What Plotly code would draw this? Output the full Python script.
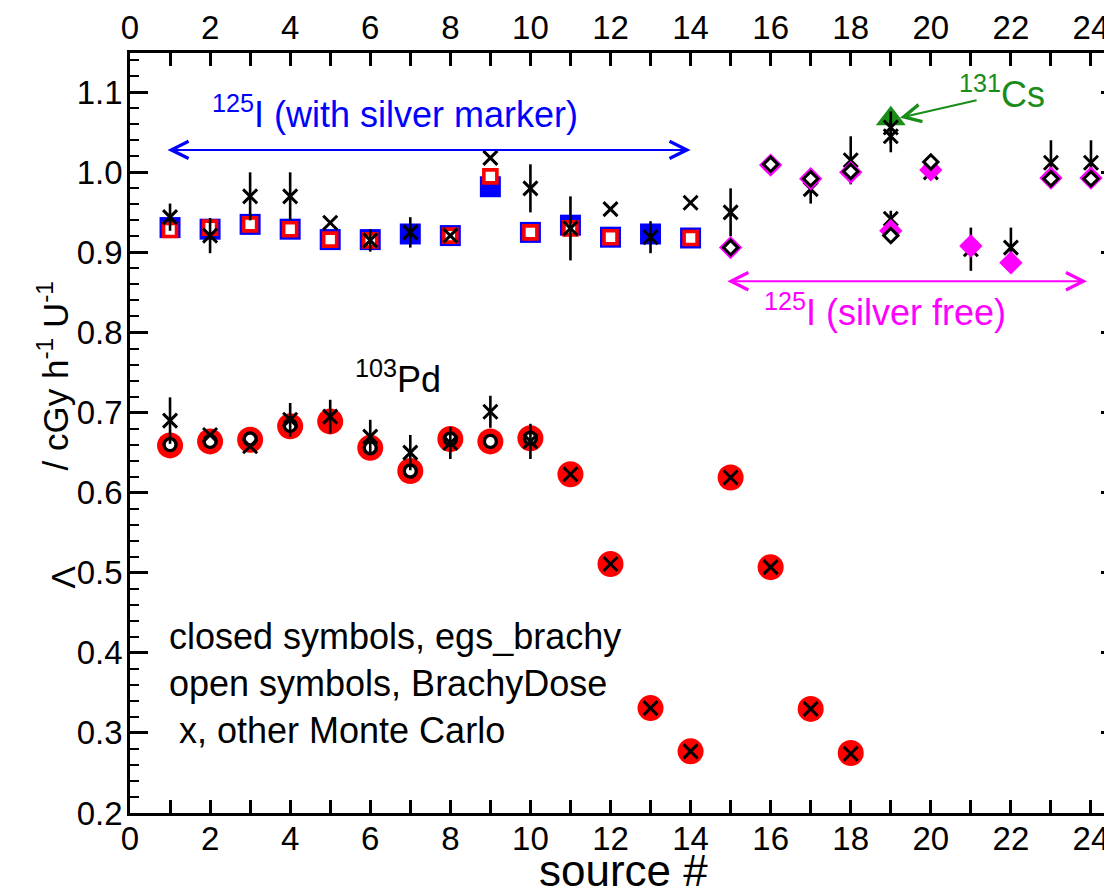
import plotly.graph_objects as go

# ---------------- data ----------------
# 125I sources with silver marker (sources 1-14)
i_src = list(range(1, 15))
i_egs = [0.931, 0.929, 0.935, 0.929, 0.916, 0.916, 0.923, 0.921, 0.982, 0.925, 0.934, 0.919, 0.923, 0.918]
i_bd = [0.928, 0.931, 0.935, 0.929, 0.916, 0.915, None, 0.921, 0.995, 0.925, 0.930, 0.919, None, 0.918]
i_other = [0.944, 0.921, 0.970, 0.970, 0.937, 0.915, 0.925, 0.921, 1.018, 0.980, 0.930, 0.954, 0.919, 0.962]
i_other_err = [0.017, 0.022, 0.030, 0.030, 0, 0.014, 0.019, 0, 0, 0.030, 0.040, 0, 0.020, 0]

# 125I silver-free sources (15-24)
sf_src = [15, 16, 17, 18, 19, 20, 21, 22, 23, 24]
sf_egs = [0.906, 1.009, 0.992, 1.000, 0.927, 1.003, 0.908, 0.887, 0.993, 0.993]
sf_bd = [0.906, 1.010, 0.992, 1.001, 0.921, 1.013, None, None, 0.992, 0.992]
sf_other_src = [15, 17, 18, 19, 19, 19, 20, 21, 22, 23, 24]
sf_other = [0.950, 0.979, 1.015, 1.056, 1.045, 0.942, 1.000, 0.904, 0.906, 1.012, 1.012]
sf_other_err = [0.030, 0.018, 0.030, 0.020, 0.020, 0.010, 0, 0.027, 0.025, 0.028, 0.028]

# 131Cs source
cs_src = [19]
cs_egs = [1.067]

# 103Pd sources (1-18)
pd_src = list(range(1, 19))
pd_egs = [0.659, 0.664, 0.666, 0.683, 0.689, 0.656, 0.627, 0.667, 0.664, 0.668,
          0.623, 0.511, 0.331, 0.277, 0.619, 0.507, 0.330, 0.275]
pd_bd = [0.660, 0.664, 0.667, 0.684, None, 0.656, 0.627, 0.667, 0.664, 0.668,
         None, None, None, None, None, None, None, None]
pd_other = [0.690, 0.672, 0.658, 0.691, 0.695, 0.670, 0.650, 0.662, 0.701, 0.664,
            0.623, 0.511, 0.331, 0.277, 0.619, 0.507, 0.330, 0.274]
pd_other_err = [0.029, 0, 0, 0.021, 0.021, 0.021, 0.022, 0.020, 0.020, 0.022,
                0, 0, 0, 0, 0, 0, 0, 0]

x_ticks = list(range(0, 25))
x_ticktext = [str(v) if v % 2 == 0 else "" for v in x_ticks]
y_ticks = [0.2, 0.3, 0.4, 0.5, 0.6, 0.7, 0.8, 0.9, 1.0, 1.1]

# ---------------- styles ----------------
FONT = "Liberation Sans, Arial, Helvetica, sans-serif"
BLUE = "#0000ff"
RED = "#ff0000"
MAG = "#ff00ff"
GREEN = "#1a8c1a"
TXT = 36

fig = go.Figure()

def xmarks(xs, ys, errs):
    return go.Scatter(
        x=xs, y=ys, mode="markers",
        marker=dict(symbol="x-thin", size=14, line=dict(width=3, color="black"), color="black"),
        error_y=dict(type="data", array=errs, visible=True, thickness=2.6, width=0, color="black"),
        showlegend=False, hoverinfo="x+y")

# 125I with silver marker
fig.add_trace(go.Scatter(x=i_src, y=i_egs, mode="markers",
                         marker=dict(symbol="square", size=21, color=BLUE, line=dict(width=0)),
                         showlegend=False))
fig.add_trace(go.Scatter(x=i_src, y=i_bd, mode="markers",
                         marker=dict(symbol="square", size=13, color="white", line=dict(width=3.6, color=RED)),
                         showlegend=False))
fig.add_trace(xmarks(i_src, i_other, i_other_err))

# 103Pd
fig.add_trace(go.Scatter(x=pd_src, y=pd_egs, mode="markers",
                         marker=dict(symbol="circle", size=26, color=RED, line=dict(width=0)),
                         showlegend=False))
fig.add_trace(go.Scatter(x=pd_src, y=pd_bd, mode="markers",
                         marker=dict(symbol="circle", size=12, color="white", line=dict(width=3.4, color="black")),
                         showlegend=False))
fig.add_trace(xmarks(pd_src, pd_other, pd_other_err))

# 131Cs
fig.add_trace(go.Scatter(x=cs_src, y=cs_egs, mode="markers",
                         marker=dict(symbol="triangle-up", size=26, color=GREEN, line=dict(width=0)),
                         showlegend=False))

# 125I silver free
fig.add_trace(xmarks(sf_other_src, sf_other, sf_other_err))
fig.add_trace(go.Scatter(x=sf_src, y=sf_egs, mode="markers",
                         marker=dict(symbol="diamond", size=18, color=MAG, line=dict(width=0)),
                         showlegend=False))
fig.add_trace(go.Scatter(x=sf_src, y=sf_bd, mode="markers",
                         marker=dict(symbol="diamond", size=11, color="white", line=dict(width=3, color="black")),
                         showlegend=False))

# dummy trace to activate top/right axes
fig.add_trace(go.Scatter(x=[0], y=[0.5], xaxis="x2", yaxis="y2", mode="markers",
                         marker=dict(opacity=0), showlegend=False, hoverinfo="skip"))

XR = [0, 24.5]
YR = [0.2, 1.149]
tickfont = dict(family=FONT, size=33, color="black")

# page body has an 8px default margin -> figure is 1104x884 so the plot frame
# lands at the same screen pixels as the reference
fig.update_layout(
    width=1104, height=884,
    margin=dict(l=122, r=1, t=42, b=79),
    paper_bgcolor="white", plot_bgcolor="white",
    font=dict(family=FONT, color="black"),
    xaxis=dict(range=XR, tickmode="array", tickvals=x_ticks, ticktext=x_ticktext,
               ticks="inside", ticklen=13, tickwidth=2.5, tickcolor="black",
               showline=True, linewidth=2.7, linecolor="black", showgrid=False, zeroline=False,
               tickfont=tickfont, side="bottom", ticklabelstandoff=-5),
    xaxis2=dict(range=XR, overlaying="x", side="top", anchor="y", tickmode="array",
                tickvals=x_ticks, ticktext=x_ticktext,
                ticks="inside", ticklen=13, tickwidth=2.5, tickcolor="black",
                showline=True, linewidth=2.7, linecolor="black", showgrid=False, zeroline=False,
                tickfont=tickfont, ticklabelstandoff=-2),
    yaxis=dict(range=YR, tickmode="array", tickvals=y_ticks,
               tickformat=".1f", ticks="inside", ticklen=18, tickwidth=2.5, tickcolor="black",
               minor=dict(dtick=0.02, tick0=0.2, ticks="inside", ticklen=9, tickwidth=2.2, tickcolor="black"),
               showline=True, linewidth=2.7, linecolor="black", showgrid=False, zeroline=False,
               tickfont=tickfont, ticklabelstandoff=-2),
    yaxis2=dict(range=YR, overlaying="y", side="right", anchor="x",
                tickvals=y_ticks,
                ticks="inside", ticklen=10, tickwidth=2.5, tickcolor="black",
                showticklabels=False, showline=False, showgrid=False, zeroline=False),
)

# dotted right frame line
fig.add_shape(type="line", xref="paper", yref="paper", x0=1, x1=1, y0=0, y1=1,
              line=dict(color="black", width=1.5, dash="dot"))

# ---- annotations ----
def arrow(x0, x1, y, color):
    fig.add_annotation(x=x1, y=y, ax=x0, ay=y, xref="x", yref="y", axref="x", ayref="y",
                       text="", showarrow=True, arrowhead=5, arrowside="end+start",
                       arrowsize=1.7, arrowwidth=2, arrowcolor=color)

arrow(0.9, 14.0, 1.028, BLUE)
arrow(14.88, 23.9, 0.864, MAG)

def label(x, y, text, color, size=TXT, xanchor="center"):
    fig.add_annotation(x=x, y=y, xref="x", yref="y", showarrow=False, text=text,
                       xanchor=xanchor, yanchor="middle",
                       font=dict(family=FONT, size=size, color=color))

label(6.62, 1.075, "<sup>125</sup>I (with silver marker)", BLUE)
label(18.85, 0.828, "<sup>125</sup>I (silver free)", MAG)
label(6.69, 0.744, "<sup>103</sup>Pd", "black")
label(21.78, 1.100, "<sup>131</sup>Cs", GREEN)
fig.add_annotation(x=19.23, y=1.068, ax=21.18, ay=1.0905, xref="x", yref="y", axref="x", ayref="y",
                   text="", showarrow=True, arrowhead=5, arrowsize=1.7, arrowwidth=2,
                   arrowcolor=GREEN)

notes = ["closed symbols, egs_brachy", "open symbols, BrachyDose", " x, other Monte Carlo"]
note_y = [0.420, 0.362, 0.303]
for t, yv in zip(notes, note_y):
    label(0.92, yv, t, "black", xanchor="left")

# axis titles
fig.add_annotation(x=0.503, y=-0.075, xref="paper", yref="paper", showarrow=False,
                   xanchor="center", yanchor="middle",
                   text="source #", font=dict(family=FONT, size=44, color="black"))
fig.add_annotation(x=-0.068, y=0.31, xref="paper", yref="paper", showarrow=False,
                   xanchor="center", yanchor="middle",
                   text="\u039b", textangle=-90, font=dict(family=FONT, size=34, color="black"))
fig.add_annotation(x=-0.078, y=0.575, xref="paper", yref="paper", showarrow=False,
                   xanchor="center", yanchor="middle",
                   text="/ cGy h<sup>-1</sup> U<sup>-1</sup>", textangle=-90,
                   font=dict(family=FONT, size=35, color="black"))

fig.write_html("out.html")
